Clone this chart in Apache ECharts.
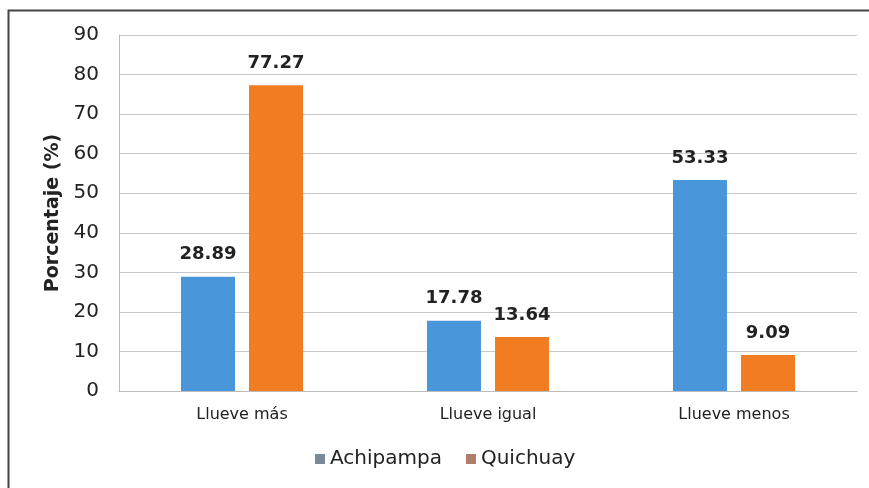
<!DOCTYPE html>
<html>
<head>
<meta charset="utf-8">
<script src="https://cdn.jsdelivr.net/npm/echarts@6/dist/echarts.min.js"></script>
<style>
  html, body { margin: 0; padding: 0; background: #fff; }
  #chart { width: 869px; height: 488px; }
</style>
</head>
<body>
<div id="chart"></div>
<script>
const categories = ['Llueve más', 'Llueve igual', 'Llueve menos'];
const achipampa = [28.89, 17.78, 53.33];
const quichuay = [77.27, 13.64, 9.09];
const seriesNames = ['Achipampa', 'Quichuay'];

const chart = echarts.init(document.getElementById('chart'));

// etiquetas de valor encima de cada barra
const labelStyle = {
    show: true,
    position: 'top',
    distance: 13,
    fontWeight: 'bold',
    fontSize: 18,
    color: '#222',
    formatter: p => p.value.toFixed(2)
};

let option = {
    animation: false,
    textStyle: { fontFamily: 'DejaVu Sans, sans-serif' },
    graphic: [{
        type: 'rect',
        shape: { x: 8.5, y: 10.5, width: 900, height: 500 },
        style: { fill: 'none', stroke: '#444', lineWidth: 2 }
    }],
    legend: {
        bottom: 14,
        left: 310,
        itemWidth: 10,
        itemHeight: 10,
        itemGap: 24,
        textStyle: { fontSize: 20, color: '#222' },
        data: [
            { name: seriesNames[0], icon: 'rect', itemStyle: { color: '#7a8a99' } },
            { name: seriesNames[1], icon: 'rect', itemStyle: { color: '#b07d6a' } }
        ]
    },
    grid: { left: 119, right: 12, top: 35, bottom: 97 },
    xAxis: {
        type: 'category',
        data: categories,
        axisLine: { lineStyle: { color: '#bbb' } },
        axisTick: { show: false },
        axisLabel: { fontSize: 16, color: '#222', margin: 16 }
    },
    yAxis: {
        type: 'value',
        min: 0,
        max: 90,
        interval: 10,
        name: 'Porcentaje (%)',
        nameLocation: 'middle',
        nameGap: 56,
        nameTextStyle: { fontSize: 19, fontWeight: 'bold', color: '#222' },
        axisLine: { show: true, lineStyle: { color: '#bbb' } },
        axisLabel: { fontSize: 20, color: '#222', margin: 20 },
        splitLine: { lineStyle: { color: '#c8c8c8' } }
    },
    series: [
        {
            name: seriesNames[0],
            type: 'bar',
            data: achipampa,
            barWidth: 54,
            barGap: '26%',
            itemStyle: { color: '#4a96da' },
            label: labelStyle
        },
        {
            name: seriesNames[1],
            type: 'bar',
            data: quichuay,
            barWidth: 54,
            itemStyle: { color: '#f27c22' },
            label: labelStyle
        }
    ]
};

chart.setOption(option);
</script>
</body>
</html>
